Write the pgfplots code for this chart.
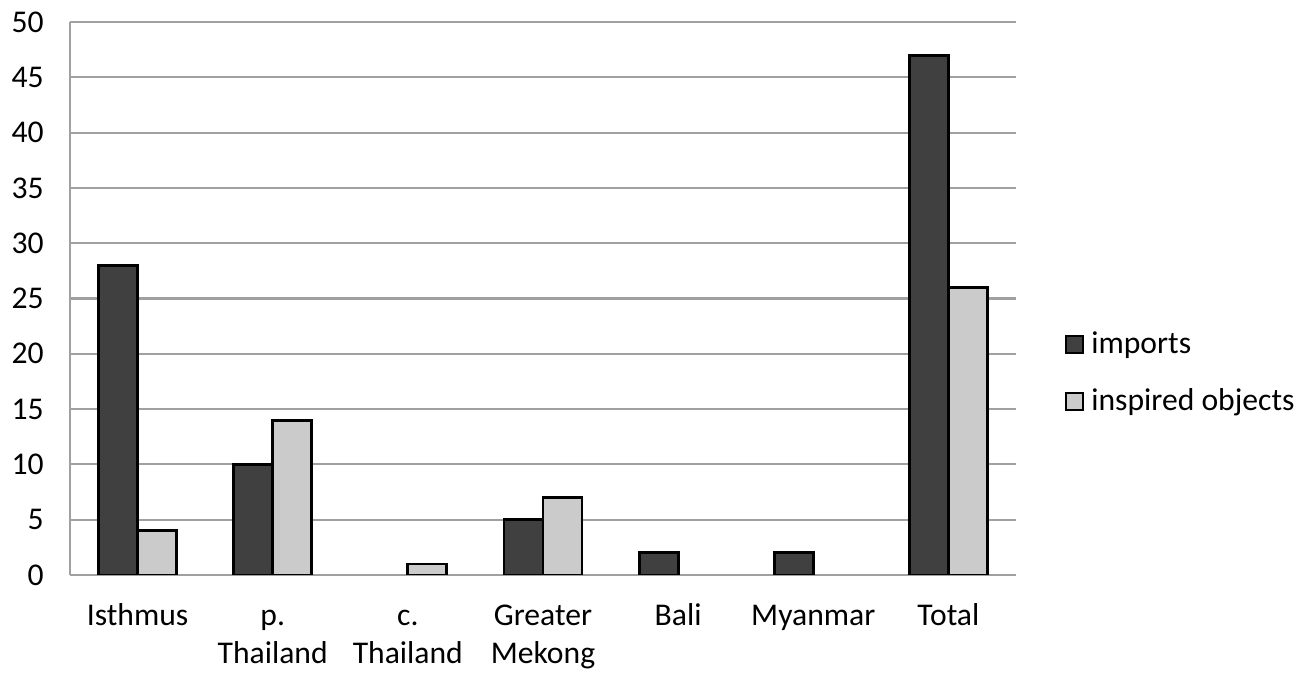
\documentclass[border=0pt]{standalone}
\usepackage{fontspec}
\setmainfont{Carlito}
\usepackage{pgfplots}
\pgfplotsset{compat=1.18}
\definecolor{darkbar}{HTML}{404040}
\definecolor{lightbar}{HTML}{CBCBCB}
\definecolor{gridgray}{HTML}{A0A0A0}

\begin{document}
\fontsize{9}{10.5}\selectfont
\begin{tikzpicture}
\useasboundingbox (-0.70cm,-1.01cm) rectangle (12.29cm,5.75cm);
\begin{axis}[
    at={(0,0)}, anchor=south west,
    scale only axis,
    width=9.46cm, height=5.53cm,
    ybar, bar width=0.39cm,
    xmin=-0.5, xmax=6.5,
    ymin=0, ymax=50,
    ytick={0,5,...,50},
    xtick={0,...,6},
    xticklabels={\strut Isthmus, \strut p.\\Thailand, \strut c.\\Thailand,
        \strut Greater\\Mekong, \strut Bali, \strut Myanmar, \strut Total},
    xticklabel style={align=center, anchor=north,
        font=\fontsize{9}{10.7}\selectfont, yshift=-0.13cm},
    yticklabel style={xshift=-0.15cm},
    /pgf/number format/assume math mode=true,
    major tick length=0pt,
    axis x line*=bottom, axis y line*=left,
    axis line style={gridgray, line width=0.6pt, -},
    ymajorgrids, grid style={gridgray, line width=0.6pt},
    legend style={draw=none, fill=none, at={(1,0.365)}, anchor=west, xshift=0.38cm,
        row sep=0.16cm, legend cell align=left},
    legend image code/.code={\draw[#1, line width=0.6pt] (0cm,-0.085cm) rectangle (0.17cm,0.085cm);},
]
\addplot[draw=black, line width=0.8pt, fill=darkbar, bar shift=-0.195cm] coordinates {
    (0,28) (1,10) (3,5) (4,2) (5,2) (6,47)
};
\addlegendentry{imports}
\addplot[draw=black, line width=0.8pt, fill=lightbar, bar shift=0.195cm] coordinates {
    (0,4) (1,14) (2,1) (3,7) (6,26)
};
\addlegendentry{inspired objects}
\end{axis}
\end{tikzpicture}
\end{document}
